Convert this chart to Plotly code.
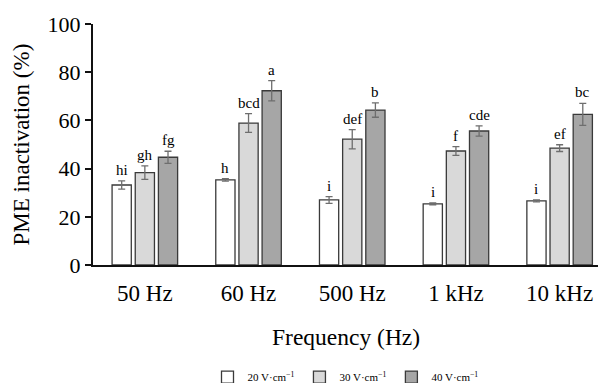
import plotly.graph_objects as go

categories = ["50 Hz", "60 Hz", "500 Hz", "1 kHz", "10 kHz"]
series_names = ["20 V·cm<sup>−1</sup>", "30 V·cm<sup>−1</sup>", "40 V·cm<sup>−1</sup>"]
v20 = [33.2, 35.3, 27.0, 25.4, 26.6]
v30 = [38.3, 58.9, 52.2, 47.3, 48.5]
v40 = [44.7, 72.3, 64.3, 55.6, 62.5]
e20 = [1.7, 0.5, 1.4, 0.4, 0.4]
e30 = [2.8, 3.9, 4.0, 1.8, 1.4]
e40 = [2.5, 4.2, 3.0, 2.1, 4.6]
l20 = ["hi", "h", "i", "i", "i"]
l30 = ["gh", "bcd", "def", "f", "ef"]
l40 = ["fg", "a", "b", "cde", "bc"]

values = [v20, v30, v40]
errors = [e20, e30, e40]
letters = [l20, l30, l40]
fills = ["#ffffff", "#d9d9d9", "#a6a6a6"]

FONT = "Liberation Serif"
xs = list(range(len(categories)))
bargap = 0.33
slot = (1 - bargap) / 3

fig = go.Figure()
for k in range(3):
    fig.add_trace(go.Bar(
        x=xs, y=values[k], name=series_names[k],
        marker=dict(color=fills[k], line=dict(color="#3a3a3a", width=1.3)),
        error_y=dict(type="data", array=errors[k], color="#6e6e6e", thickness=1.3, width=3.5),
    ))

annotations = []
for k in range(3):
    for i, x in enumerate(xs):
        annotations.append(dict(
            x=x + (k - 1) * slot, y=values[k][i] + errors[k][i], xref="x", yref="y",
            text=letters[k][i], showarrow=False, yanchor="bottom", yshift=1,
            font=dict(family=FONT, size=15, color="#000"),
        ))

annotations.append(dict(
    x=0.5, y=-0.299, xref="paper", yref="paper", text="Frequency (Hz)", showarrow=False,
    yanchor="middle", xanchor="center", font=dict(family=FONT, size=23.5, color="#000"),
))
annotations.append(dict(
    x=(21 - 93) / 505.0, y=0.5, xref="paper", yref="paper", text="PME inactivation (%)",
    showarrow=False, textangle=-90, xanchor="center", yanchor="middle",
    font=dict(family=FONT, size=23, color="#000"),
))

fig.update_layout(
    width=598, height=383,
    margin=dict(l=93, r=0, t=24, b=118, autoexpand=False),
    paper_bgcolor="white", plot_bgcolor="white",
    barmode="group", bargap=bargap, bargroupgap=0.17,
    font=dict(family=FONT, color="#000"),
    showlegend=True,
    legend=dict(orientation="h", x=0.5, xanchor="center", y=-0.465, yanchor="middle",
                font=dict(family=FONT, size=11, color="#000"), itemwidth=30,
                tracegroupgap=0, bgcolor="rgba(0,0,0,0)"),
    annotations=annotations,
    xaxis=dict(
        range=[-0.5, 4.37], tickmode="array", tickvals=xs, ticktext=categories,
        showline=True, linecolor="#111", linewidth=2, ticks="outside", ticklen=6,
        tickcolor="rgba(0,0,0,0)", tickfont=dict(family=FONT, size=23, color="#000"),
        showgrid=False, zeroline=False, automargin=False,
    ),
    yaxis=dict(
        range=[0, 100], tickmode="array", tickvals=[0, 20, 40, 60, 80, 100],
        showline=True, linecolor="#111", linewidth=2, ticks="outside", ticklen=6,
        tickwidth=1.5, tickcolor="#111", tickfont=dict(family=FONT, size=22, color="#000"),
        showgrid=False, zeroline=False, automargin=False,
    ),
)

fig.write_html("out.html", config={"displayModeBar": False},
               post_script="document.body.style.margin='0';")
